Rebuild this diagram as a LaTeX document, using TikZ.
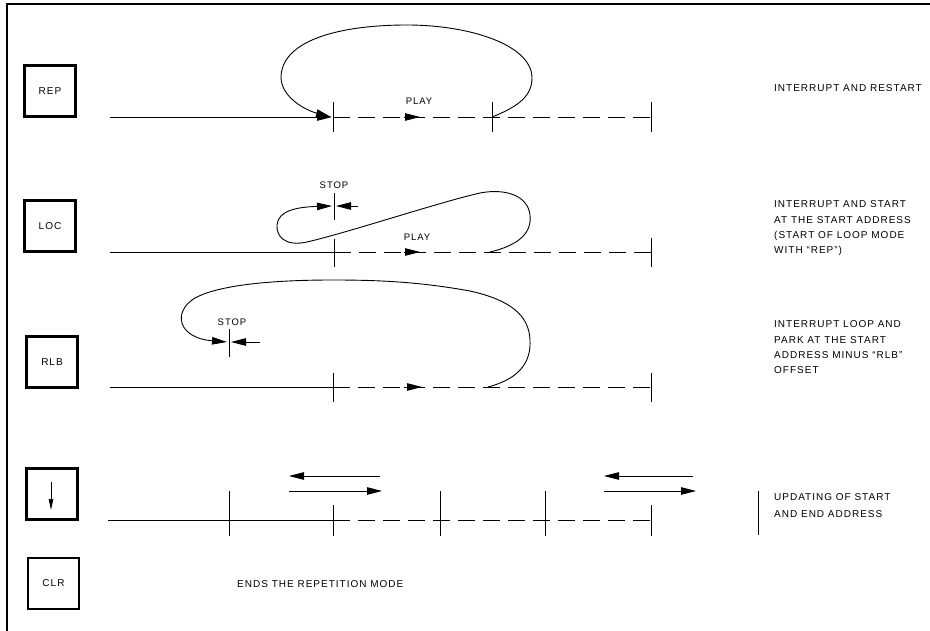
\documentclass[tikz,border=0pt]{standalone}
\usepackage{fontspec}
\setmainfont{Liberation Sans}[LetterSpace=10]
\usetikzlibrary{arrows.meta}
\begin{document}
\begin{tikzpicture}[x=1pt,y=-1pt,
  every node/.style={font=\fontsize{10}{15.4}\selectfont, inner sep=0pt},
  key/.style={draw, line width=2.2pt, minimum size=51pt},
  track/.style={line width=0.9pt},
  dashtrack/.style={track, dash pattern=on 17pt off 8pt},
  tick/.style={line width=0.9pt},
  tip/.style={line width=0.9pt, -{Triangle[length=15pt,width=7.5pt]}},
  note/.style={anchor=north west, align=left},
  lbl/.style={font=\fontsize{9.5}{11}\selectfont, anchor=base},
]
\useasboundingbox (0,0) rectangle (930,631);
% frame
\draw[line width=1.1pt] (7,631) -- (7,4) -- (930,4);

% key boxes
\node[key] (rep) at (50,91)   {REP};
\node[key] (loc) at (50,226)  {LOC};
\node[key] (rlb) at (52,362)  {RLB};
\node[key] (upd) at (52,494)  {};
\node[key] (clr) at (53.5,583.5) {CLR};
\coordinate (updtop) at (51,482);
\coordinate (updtip) at (51,510);
\draw[line width=0.9pt, -{Triangle[length=11pt,width=4.5pt]}] (updtop) -- (updtip);

% ---- REP: interrupt and restart
\coordinate (a0) at (333,117);
\coordinate (a1) at (492,117);
\coordinate (a2) at (651,117);
\draw[tip] (110,117) -- (332,117);
\draw[dashtrack] (a0) -- (a2);
\foreach \p in {a0,a1,a2} \draw[tick] ([yshift=-15pt]\p) -- ([yshift=15pt]\p);
\draw[tip] (404,117) -- (420,117);
\node[lbl] (play1) at (419,105) {PLAY};
\draw[tip] (a1) .. controls (520,106) and (532,95) .. (532,78)
  .. controls (532,45) and (470,25) .. (407,25)
  .. controls (340,25) and (282,40) .. (281,77)
  .. controls (281,97) and (305,110) .. (331,117);

% ---- LOC: interrupt and start at the start address
\coordinate (b0) at (334,252);
\coordinate (b2) at (651,252);
\coordinate (bs) at (334,206);
\draw[track] (110,252) -- (b0);
\draw[dashtrack] (b0) -- (b2);
\draw[tick] (334,239) -- (334,267);
\draw[tick] (651,238) -- (651,267);
\draw[tick] (334,193) -- (334,220);
\node[lbl] (stop1) at (334,189) {STOP};
\draw[tip] (358,206) -- (336,206);
\draw[tip] (404,252) -- (420,252);
\node[lbl] (play2) at (417,241) {PLAY};
\draw[tip] (490,252) .. controls (520,245) and (532,232) .. (530,215)
  .. controls (528,196) and (506,188) .. (480,193)
  .. controls (440,202) and (350,232) .. (307,242)
  .. controls (285,247) and (276,236) .. (277,225)
  .. controls (278,211) and (296,207) .. (332,206);

% ---- RLB: interrupt loop and park at the start address minus offset
\coordinate (c0) at (333,387);
\coordinate (c2) at (651,387);
\draw[track] (110,387) -- (c0);
\draw[dashtrack] (c0) -- (c2);
\draw[tick] (333,373) -- (333,402);
\draw[tick] (651,373) -- (651,402);
\draw[tick] (229,329) -- (229,357);
\node[lbl] (stop2) at (232,325.5) {STOP};
\draw[tip] (260,342) -- (231,342);
\draw[tip] (404,387) -- (422,387);
\draw[tip] (488,387) .. controls (522,378) and (531,360) .. (530,340)
  .. controls (529,315) and (510,300) .. (470,291)
  .. controls (420,282) and (380,280) .. (333,280)
  .. controls (260,280) and (215,287) .. (195,298)
  .. controls (172,312) and (178,338) .. (227,342);

% ---- update of start and end address
\coordinate (d0) at (333,520);
\coordinate (d4) at (651,520);
\draw[track] (108,520) -- (d0);
\draw[dashtrack] (d0) -- (d4);
\draw[tick] (229,491) -- (229,536);
\draw[tick] (333,505) -- (333,536);
\draw[tick] (440,491) -- (440,536);
\draw[tick] (545,491) -- (545,536);
\draw[tick] (651,505) -- (651,536);
\draw[tip] (380,476) -- (289,476);
\draw[tip] (289,491) -- (382,491);
\draw[tip] (693,476) -- (604,476);
\draw[tip] (604,491) -- (696,491);
\draw[tick] (758,491) -- (758,535);

% descriptions
\node[anchor=base west] (t1) at (774,91.5) {INTERRUPT AND RESTART};
\node[note] (t2) at (774,200.5) {INTERRUPT AND START\\AT THE START ADDRESS\\(START OF LOOP MODE\\WITH “REP”)};
\node[note] (t3) at (774,320.5) {INTERRUPT LOOP AND\\PARK AT THE START\\ADDRESS MINUS “RLB”\\OFFSET};
\node[note, font=\fontsize{10}{17}\selectfont] (t4) at (774,493.5) {UPDATING OF START\\AND END ADDRESS};
\node[anchor=base west] (t5) at (237,587.5) {ENDS THE REPETITION MODE};
\end{tikzpicture}
\end{document}
